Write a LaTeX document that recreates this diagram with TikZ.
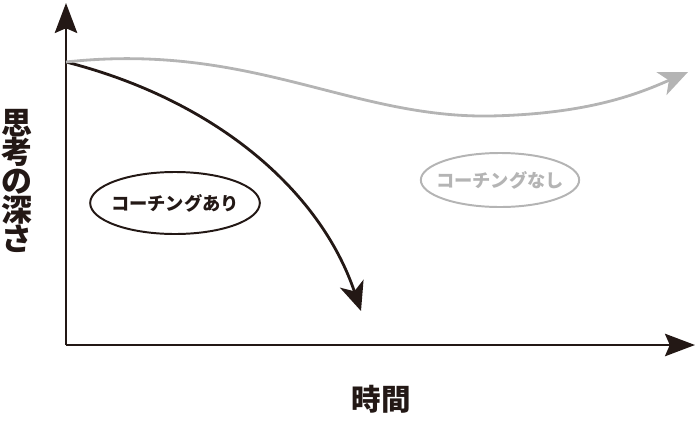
\documentclass[tikz,border=0pt]{standalone}
\usepackage{fontspec}
\newfontfamily\jpfont{Noto Sans CJK JP}
\usepackage{tikz}
\usetikzlibrary{arrows.meta, shapes.geometric, positioning}
\definecolor{inkblack}{HTML}{231815}
\definecolor{lightgray}{HTML}{B4B4B4}
\tikzset{
  axis/.style={
    line width=1.8pt,
    inkblack,
    -{Stealth[length=0.75cm, width=0.56cm, inset=0.12cm]}
  },
  trend/.style={
    line width=2pt,
    -{Stealth[length=0.72cm, width=0.62cm, inset=0.2cm]}
  },
  tag/.style={
    ellipse,
    draw,
    line width=1.4pt,
    inner ysep=0pt,
    font=\jpfont\bfseries\fontsize{13}{15}\selectfont
  },
  axislabel/.style={
    font=\jpfont\bfseries,
    align=center,
    text=inkblack
  }
}
\begin{document}
\begin{tikzpicture}[x=0.025cm, y=-0.025cm]
  \useasboundingbox (0,0) rectangle (696,428);

  % Axes
  \coordinate (O) at (66,345);
  \coordinate (ytip) at (66,3);
  \coordinate (xtip) at (695,345);
  \draw[axis] (O) -- (ytip);
  \draw[axis] (O) -- (xtip);

  % Axis labels
  \node (depth) [axislabel, font=\jpfont\bfseries\fontsize{22}{20.6}\selectfont] at (17,181) {思\\考\\の\\深\\さ};
  \node (time) [axislabel, font=\jpfont\bfseries\fontsize{21}{24}\selectfont] at (381,399) {時間};

  % Curves
  \coordinate (S) at (66,62);
  \coordinate (withend) at (361,311);
  \coordinate (withoutend) at (688,72);
  \draw[trend, inkblack] (S) .. controls (215,100) and (320,190) .. (withend);
  \draw[trend, lightgray] (S) .. controls (250,42) and (350,118) .. (490,116)
    .. controls (590,114) and (640,93) .. (withoutend);

  % Labels
  \node (with) [tag, draw=inkblack, text=inkblack, inner xsep=-0.1cm, minimum height=1.55cm] at (175,203) {コーチングあり};
  \node (without) [tag, draw=lightgray, text=lightgray, inner xsep=-0.2cm, minimum height=1.35cm] at (500,180) {コーチングなし};
\end{tikzpicture}
\end{document}
